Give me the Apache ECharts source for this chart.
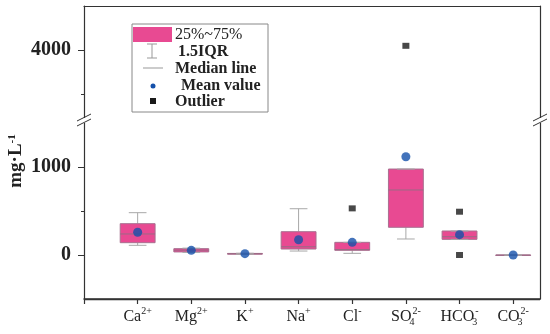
<!DOCTYPE html>
<html>
<head>
<meta charset="utf-8">
<script src="https://cdn.jsdelivr.net/npm/echarts@6/dist/echarts.min.js"></script>
<style>html,body{margin:0;padding:0;background:#fff}#c{width:550px;height:334px}</style>
</head>
<body>
<div id="c"></div>
<script>
const categories = ['Ca2+', 'Mg2+', 'K+', 'Na+', 'Cl-', 'SO42-', 'HCO3-', 'CO32-'];
const tickLabels = ['Ca{sup|2+}', 'Mg{sup|2+}', 'K{sup|+}', 'Na{sup|+}', 'Cl{sup|-}', 'SO{sub|4}{sup|2-}', 'HCO{sub|3}{sup|-}', 'CO{sub|3}{sup|2-}'];
const whiskerLow  = [110, 30, 8, 45, 19, 182, 178, 0];
const q1          = [140, 35, 10, 68, 53, 315, 178, 0];
const median      = [239, 55, 14, 94, 62, 739, 208, 0];
const q3          = [356, 72, 18, 265, 144, 977, 273, 0];
const whiskerHigh = [481, 78, 20, 526, 144, 977, 273, 0];
const means       = [258, 53, 15, 174, 144, 1117, 231, 0];
const outliers    = [[4, 530], [5, 4050], [6, 492], [6, 0]]; // [category index, value]
const yTicksUpperMajor = [4000];
const yTicksUpperMinor = [3500];
const yTicksLowerMajor = [0, 1000];
const yTicksLowerMinor = [500];

const FONT = 'Liberation Serif';
const PINK = '#E84A92';
const BLUE = '#1450AA';
const AXC = '#333';

const boxData = categories.map((c, i) => [i + 1, whiskerLow[i], q1[i], median[i], q3[i], whiskerHigh[i]]);
const meanData = categories.map((c, i) => [i + 1, means[i]]);
const outlierData = outliers.map(o => [o[0] + 1, o[1]]);
const xTicks = [0].concat(categories.map((c, i) => i + 1));
const xLabelVals = categories.map((c, i) => i + 1);

function renderBox(params, api) {
  const x = api.value(0);
  const lo = api.coord([x, api.value(1)]);
  const b1 = api.coord([x, api.value(2)]);
  const md = api.coord([x, api.value(3)]);
  const b3 = api.coord([x, api.value(4)]);
  const hi = api.coord([x, api.value(5)]);
  const hw = api.size([0.65, 0])[0] / 2;
  const cw = api.size([0.33, 0])[0] / 2;
  const cx = lo[0];
  const wstyle = {stroke: '#a8a8a8', lineWidth: 1};
  return {
    type: 'group',
    children: [
      {type: 'line', shape: {x1: cx, y1: hi[1], x2: cx, y2: b3[1]}, style: wstyle},
      {type: 'line', shape: {x1: cx, y1: b1[1], x2: cx, y2: lo[1]}, style: wstyle},
      {type: 'rect', shape: {x: cx - hw, y: b3[1], width: hw * 2, height: Math.max(b1[1] - b3[1], 0.5)},
        style: {fill: PINK, stroke: '#a87090', lineWidth: 1}},
      {type: 'line', shape: {x1: cx - hw, y1: md[1], x2: cx + hw, y2: md[1]}, style: {stroke: '#9a6a84', lineWidth: 1}},
      {type: 'line', shape: {x1: cx - cw, y1: hi[1], x2: cx + cw, y2: hi[1]}, style: wstyle},
      {type: 'line', shape: {x1: cx - cw, y1: lo[1], x2: cx + cw, y2: lo[1]}, style: wstyle}
    ]
  };
}

const yLabelStyle = {fontFamily: FONT, fontWeight: 'bold', fontSize: 20, color: '#222', margin: 13, formatter: v => String(v)};

const option = {
  animation: false,
  grid: [
    {left: 84, right: 10, top: 6, bottom: 213},
    {left: 84, right: 10, top: 121, bottom: 35}
  ],
  xAxis: [
    {gridIndex: 0, type: 'value', position: 'top', min: 0, max: 8.5,
      axisLine: {show: true, onZero: false, lineStyle: {color: AXC, width: 1.2}}, axisTick: {show: false}, axisLabel: {show: false}, splitLine: {show: false}},
    {gridIndex: 1, type: 'value', position: 'bottom', min: 0, max: 8.5, z: 20,
      axisLine: {show: true, onZero: false, lineStyle: {color: AXC, width: 1.5}},
      axisTick: {show: true, length: 5, customValues: xTicks, lineStyle: {color: AXC, width: 1.2}},
      axisLabel: {show: true, customValues: xLabelVals, margin: 7,
        formatter: v => tickLabels[Math.round(v) - 1] || '',
        fontFamily: FONT, fontSize: 16, color: '#222', lineHeight: 21,
        rich: {
          sup: {fontFamily: FONT, fontSize: 10, color: '#222', verticalAlign: 'top', lineHeight: 11},
          sub: {fontFamily: FONT, fontSize: 10, color: '#222', verticalAlign: 'bottom', lineHeight: 11, width: 1}
        }},
      splitLine: {show: false}}
  ],
  yAxis: [
    {gridIndex: 0, type: 'value', position: 'left', min: 3200, max: 4500,
      axisLine: {show: true, onZero: false, lineStyle: {color: AXC, width: 1.2}},
      axisTick: {show: true, length: 6, customValues: yTicksUpperMajor, lineStyle: {color: AXC}},
      axisLabel: Object.assign({customValues: yTicksUpperMajor}, yLabelStyle), splitLine: {show: false}},
    {gridIndex: 0, type: 'value', position: 'left', min: 3200, max: 4500,
      axisLine: {show: false, onZero: false}, axisTick: {show: true, length: 3, customValues: yTicksUpperMinor, lineStyle: {color: AXC}},
      axisLabel: {show: false}, splitLine: {show: false}},
    {gridIndex: 0, type: 'value', position: 'right', min: 3200, max: 4500,
      axisLine: {show: true, onZero: false, lineStyle: {color: AXC, width: 1.2}}, axisTick: {show: false}, axisLabel: {show: false}, splitLine: {show: false}},
    {gridIndex: 1, type: 'value', position: 'left', min: -500, max: 1523,
      axisLine: {show: true, onZero: false, lineStyle: {color: AXC, width: 1.2}},
      axisTick: {show: true, length: 6, customValues: yTicksLowerMajor, lineStyle: {color: AXC}},
      axisLabel: Object.assign({customValues: yTicksLowerMajor}, yLabelStyle), splitLine: {show: false}},
    {gridIndex: 1, type: 'value', position: 'left', min: -500, max: 1523,
      axisLine: {show: false, onZero: false}, axisTick: {show: true, length: 3, customValues: yTicksLowerMinor, lineStyle: {color: AXC}},
      axisLabel: {show: false}, splitLine: {show: false}},
    {gridIndex: 1, type: 'value', position: 'right', min: -500, max: 1523,
      axisLine: {show: true, onZero: false, lineStyle: {color: AXC, width: 1.2}}, axisTick: {show: false}, axisLabel: {show: false}, splitLine: {show: false}}
  ],
  series: [
    {type: 'custom', xAxisIndex: 1, yAxisIndex: 3, renderItem: renderBox, data: boxData, z: 2},
    {type: 'scatter', xAxisIndex: 1, yAxisIndex: 3, data: meanData, symbol: 'circle', symbolSize: 9,
      itemStyle: {color: BLUE}, z: 4, clip: true},
    {type: 'scatter', xAxisIndex: 1, yAxisIndex: 3, data: outlierData, symbol: 'rect', symbolSize: [7, 6],
      itemStyle: {color: '#1a1a1a'}, z: 4, clip: true},
    {type: 'scatter', xAxisIndex: 0, yAxisIndex: 0, data: outlierData, symbol: 'rect', symbolSize: [7, 6],
      itemStyle: {color: '#1a1a1a'}, z: 4, clip: true}
  ],
  graphic: [
    // bottom frame line of the plot box
    {type: 'line', shape: {x1: 84, y1: 299.5, x2: 540, y2: 299.5}, style: {stroke: AXC, lineWidth: 1.5}, z: 90},
    {type: 'rect', shape: {x: 82, y: 118, width: 4, height: 5}, style: {fill: '#fff'}, z: 100},
    {type: 'line', shape: {x1: 77, y1: 121, x2: 91, y2: 114}, style: {stroke: AXC, lineWidth: 1}, z: 101},
    {type: 'line', shape: {x1: 77, y1: 126, x2: 91, y2: 119}, style: {stroke: AXC, lineWidth: 1}, z: 101},
    {type: 'rect', shape: {x: 538, y: 118, width: 4, height: 5}, style: {fill: '#fff'}, z: 100},
    {type: 'line', shape: {x1: 533, y1: 121, x2: 547, y2: 114}, style: {stroke: AXC, lineWidth: 1}, z: 101},
    {type: 'line', shape: {x1: 533, y1: 126, x2: 547, y2: 119}, style: {stroke: AXC, lineWidth: 1}, z: 101},
    {type: 'text', x: 16, y: 161, rotation: Math.PI / 2,
      style: {text: 'mg·L{sup|-1}', fontFamily: FONT, fontWeight: 'bold', fontSize: 19, fill: '#222',
        align: 'center', verticalAlign: 'middle',
        rich: {sup: {fontFamily: FONT, fontWeight: 'bold', fontSize: 11, fill: '#222', verticalAlign: 'top', lineHeight: 10}}}},
    {type: 'rect', shape: {x: 132, y: 24, width: 136, height: 88}, style: {fill: '#fff', stroke: '#888', lineWidth: 1}, z: 50},
    {type: 'rect', shape: {x: 133, y: 27, width: 39, height: 15}, style: {fill: PINK}, z: 51},
    {type: 'text', x: 175, y: 35, style: {text: '25%~75%', fontFamily: FONT, fontSize: 16, fill: '#222', verticalAlign: 'middle'}, z: 51},
    {type: 'line', shape: {x1: 152, y1: 44, x2: 152, y2: 58}, style: {stroke: '#999', lineWidth: 1}, z: 51},
    {type: 'line', shape: {x1: 147, y1: 44, x2: 157, y2: 44}, style: {stroke: '#999', lineWidth: 1}, z: 51},
    {type: 'line', shape: {x1: 147, y1: 58, x2: 157, y2: 58}, style: {stroke: '#999', lineWidth: 1}, z: 51},
    {type: 'text', x: 178, y: 52, style: {text: '1.5IQR', fontFamily: FONT, fontWeight: 'bold', fontSize: 16, fill: '#222', verticalAlign: 'middle'}, z: 51},
    {type: 'line', shape: {x1: 143, y1: 68, x2: 163, y2: 68}, style: {stroke: '#999', lineWidth: 1}, z: 51},
    {type: 'text', x: 175, y: 69, style: {text: 'Median line', fontFamily: FONT, fontWeight: 'bold', fontSize: 16, fill: '#222', verticalAlign: 'middle'}, z: 51},
    {type: 'circle', shape: {cx: 153, cy: 86, r: 2.5}, style: {fill: BLUE}, z: 51},
    {type: 'text', x: 181, y: 86, style: {text: 'Mean value', fontFamily: FONT, fontWeight: 'bold', fontSize: 16, fill: '#222', verticalAlign: 'middle'}, z: 51},
    {type: 'rect', shape: {x: 150, y: 98, width: 6, height: 6}, style: {fill: '#1a1a1a'}, z: 51},
    {type: 'text', x: 175, y: 102, style: {text: 'Outlier', fontFamily: FONT, fontWeight: 'bold', fontSize: 16, fill: '#222', verticalAlign: 'middle'}, z: 51}
  ]
};

const chart = echarts.init(document.getElementById('c'), null, {renderer: 'canvas'});
chart.setOption(option);
</script>
</body>
</html>
